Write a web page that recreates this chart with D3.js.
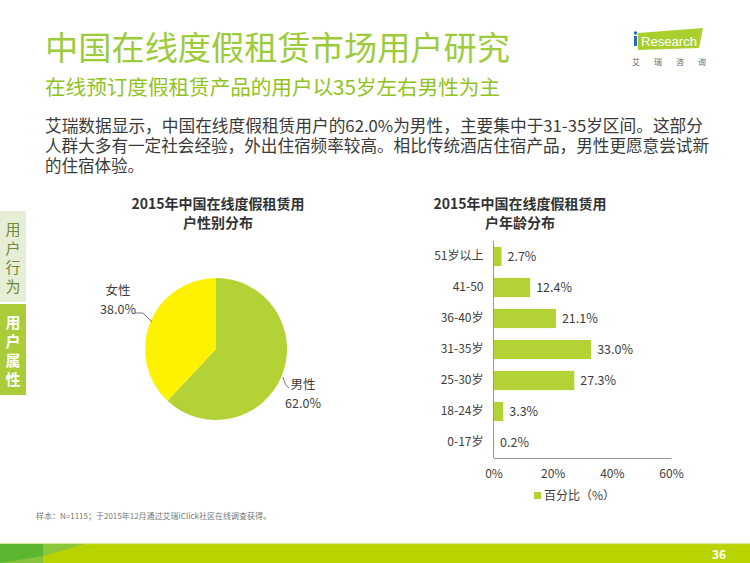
<!DOCTYPE html>
<html><head><meta charset="utf-8">
<script src="https://cdn.jsdelivr.net/npm/d3@7"></script>
<style>body{margin:0;background:#fff}svg{display:block;font-family:"Noto Sans CJK SC","Noto Sans",sans-serif}</style>
</head><body>
<svg id="c" width="750" height="563"></svg>
<script>
const genderLabels = ["男性", "女性"];
const genderValues = [62.0, 38.0];
const ageCategories = ["51岁以上", "41-50", "36-40岁", "31-35岁", "25-30岁", "18-24岁", "0-17岁"];
const ageValues = [2.7, 12.4, 21.1, 33.0, 27.3, 3.3, 0.2];
const xTicks = [0, 20, 40, 60];
const legendLabel = "百分比（%）";
const bodyLines = [
  "艾瑞数据显示，中国在线度假租赁用户的62.0%为男性，主要集中于31-35岁区间。这部分",
  "人群大多有一定社会经验，外出住宿频率较高。相比传统酒店住宿产品，男性更愿意尝试新",
  "的住宿体验。"
];

const svg = d3.select("#c");
const green = "#b2d235";
const titleGreen = "#9ccb3b";

// Title & subtitle
svg.append("text").attr("x", 45).attr("y", 60).attr("font-size", 33).attr("fill", titleGreen)
  .attr("textLength", 465).attr("lengthAdjust", "spacingAndGlyphs").text("中国在线度假租赁市场用户研究");
svg.append("text").attr("x", 45).attr("y", 95).attr("font-size", 20).attr("fill", "#8fc31f")
  .attr("textLength", 455).attr("lengthAdjust", "spacingAndGlyphs").text("在线预订度假租赁产品的用户以35岁左右男性为主");

// Logo
const logo = svg.append("g");
logo.append("polygon").attr("points", "638,33 703,28 699,48 638,50").attr("fill", "#a8cf2e");
logo.append("text").attr("x", 641).attr("y", 45.5).attr("font-size", 13).attr("fill", "#fff")
  .attr("textLength", 56).attr("lengthAdjust", "spacingAndGlyphs")
  .attr("font-family", "Liberation Sans, Arial, sans-serif").text("Research");
logo.append("rect").attr("x", 634).attr("y", 36).attr("width", 3).attr("height", 10).attr("fill", "#2a6db5");
logo.append("circle").attr("cx", 635.5).attr("cy", 33).attr("r", 1.8).attr("fill", "#2a6db5");
[["艾", 636], ["瑞", 658], ["咨", 680], ["询", 702]].forEach(([t, x]) =>
  logo.append("text").attr("x", x).attr("y", 65).attr("font-size", 8).attr("fill", "#666").attr("text-anchor", "middle").text(t));

// Body text (one text element, one tspan per line)
const bodyLen = [658, 664, null];
const body = svg.append("text").attr("font-size", 16.5).attr("fill", "#3a3a3a");
bodyLines.forEach((t, i) => {
  const el = body.append("tspan").attr("x", 45).attr("y", 132 + i * 20).text(t);
  if (bodyLen[i]) el.attr("textLength", bodyLen[i]).attr("lengthAdjust", "spacingAndGlyphs");
});

// Side tabs
svg.append("rect").attr("x", 0).attr("y", 211).attr("width", 26).attr("height", 91).attr("fill", "#e6efd6");
svg.append("rect").attr("x", 0).attr("y", 304).attr("width", 26).attr("height", 91).attr("fill", "#a9cc38");
["用", "户", "行", "为"].forEach((t, i) => svg.append("text").attr("x", 13).attr("y", 235 + i * 19).attr("text-anchor", "middle")
  .attr("font-size", 15).attr("fill", "#6e8a3a").text(t));
["用", "户", "属", "性"].forEach((t, i) => svg.append("text").attr("x", 13).attr("y", 328 + i * 19).attr("text-anchor", "middle")
  .attr("font-size", 15).attr("font-weight", "bold").attr("fill", "#fff").text(t));

// Pie chart
const pieTitle = ["2015年中国在线度假租赁用", "户性别分布"];
pieTitle.forEach((t, i) => svg.append("text").attr("x", 218).attr("y", 209 + i * 19).attr("text-anchor", "middle")
  .attr("font-size", 14).attr("font-weight", "bold").attr("fill", "#333").text(t));
const pieColor = d3.scaleOrdinal().domain(genderLabels).range([green, "#fff200"]);
const pie = d3.pie().sort(null).value(d => d)(genderValues);
const arc = d3.arc().innerRadius(0).outerRadius(71);
const pg = svg.append("g").attr("transform", "translate(216,349)");
pg.selectAll("path").data(pie).join("path").attr("d", arc)
  .attr("fill", (d, i) => pieColor(genderLabels[i]));
// leader lines
svg.append("path").attr("d", "M135,313 L143,313 L152,322").attr("fill", "none").attr("stroke", "#555").attr("stroke-width", 0.8);
svg.append("path").attr("d", "M283,377 Q285,386 289,388").attr("fill", "none").attr("stroke", "#555").attr("stroke-width", 0.8);
svg.append("text").attr("x", 118).attr("y", 295).attr("text-anchor", "middle").attr("font-size", 12.5).attr("fill", "#404040").text(genderLabels[1]);
svg.append("text").attr("x", 118).attr("y", 314).attr("text-anchor", "middle").attr("font-size", 12.5).attr("fill", "#404040").text(genderValues[1].toFixed(1) + "%");
svg.append("text").attr("x", 303).attr("y", 389).attr("text-anchor", "middle").attr("font-size", 12.5).attr("fill", "#404040").text(genderLabels[0]);
svg.append("text").attr("x", 303).attr("y", 408).attr("text-anchor", "middle").attr("font-size", 12.5).attr("fill", "#404040").text(genderValues[0].toFixed(1) + "%");

// Bar chart
const barTitle = ["2015年中国在线度假租赁用", "户年龄分布"];
barTitle.forEach((t, i) => svg.append("text").attr("x", 520).attr("y", 209 + i * 19).attr("text-anchor", "middle")
  .attr("font-size", 14).attr("font-weight", "bold").attr("fill", "#333").text(t));
const x = d3.scaleLinear().domain([0, 60]).range([493.5, 671]);
const y = d3.scaleBand().domain(ageCategories).range([241, 458]).paddingInner(0.38).paddingOuter(0.19);
const bg = svg.append("g");
bg.selectAll("rect").data(ageValues).join("rect")
  .attr("x", x(0)).attr("y", (d, i) => y(ageCategories[i]))
  .attr("width", d => x(d) - x(0)).attr("height", y.bandwidth()).attr("fill", green);
bg.selectAll("text.v").data(ageValues).join("text").attr("class", "v")
  .attr("x", d => x(d) + 6).attr("y", (d, i) => y(ageCategories[i]) + y.bandwidth() / 2 + 4.5)
  .attr("font-size", 12.5).attr("fill", "#404040").text(d => d.toFixed(1) + "%");
// y axis
const yAxis = svg.append("g").attr("transform", `translate(${x(0)},0)`).call(d3.axisLeft(y).tickSize(0).tickPadding(10));
yAxis.select(".domain").attr("stroke", "#999").attr("d", "M0,241V458");
yAxis.selectAll("text").attr("font-size", 12).attr("fill", "#404040").attr("font-family", "Noto Sans CJK SC");
// x axis
const xAxis = svg.append("g").attr("transform", "translate(0,458)").call(d3.axisBottom(x).tickValues(xTicks).tickSize(0).tickPadding(11).tickFormat(d => d + "%"));
xAxis.select(".domain").attr("stroke", "#999");
xAxis.selectAll("text").attr("font-size", 12).attr("fill", "#404040").attr("font-family", "Noto Sans CJK SC");
// legend
svg.append("rect").attr("x", 534).attr("y", 492).attr("width", 7).attr("height", 7).attr("fill", green);
svg.append("text").attr("x", 544).attr("y", 500).attr("font-size", 12).attr("fill", "#404040").text(legendLabel);

// Footnote
svg.append("text").attr("x", 36).attr("y", 519).attr("font-size", 8).attr("fill", "#777")
  .text("样本：N=1115；于2015年12月通过艾瑞iClick社区在线调查获得。");

// Footer band
svg.append("rect").attr("x", 0).attr("y", 543).attr("width", 750).attr("height", 20).attr("fill", "#b9d300");
svg.append("rect").attr("x", 0).attr("y", 543).attr("width", 750).attr("height", 1.2).attr("fill", "#d8e58c");
svg.append("rect").attr("x", 0).attr("y", 544).attr("width", 43).attr("height", 19).attr("fill", "#5db630");
svg.append("polygon").attr("points", "43,544 85,544 43,556").attr("fill", "#8cc63a");
svg.append("polygon").attr("points", "0,563 43,556 43,563").attr("fill", "#86c23a");
svg.append("text").attr("x", 719).attr("y", 559).attr("text-anchor", "middle").attr("font-size", 12).attr("font-weight", "bold")
  .attr("fill", "#fff").text("36");
</script>
</body></html>
